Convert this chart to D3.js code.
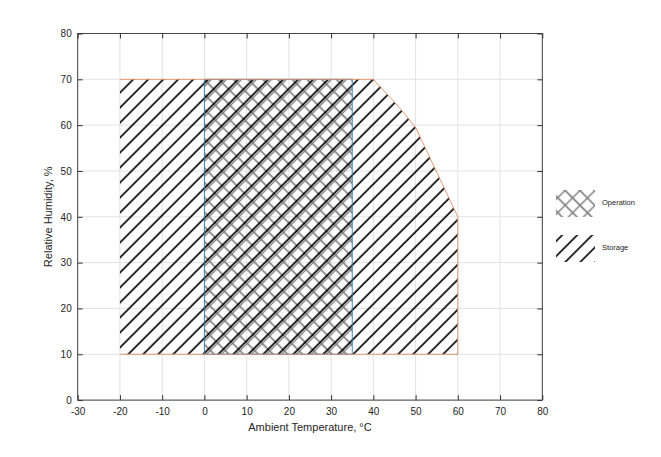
<!DOCTYPE html>
<html>
<head>
<meta charset="utf-8">
<script src="https://cdn.jsdelivr.net/npm/d3@7"></script>
<style>
  body { margin: 0; background: #fff; }
  svg text { font-family: "Liberation Sans", Arial, sans-serif; }
</style>
</head>
<body>
<svg id="chart" width="661" height="457"></svg>
<script>
// ===============================
// Data
// ===============================
const xTicks = [-30, -20, -10, 0, 10, 20, 30, 40, 50, 60, 70, 80];
const yTicks = [0, 10, 20, 30, 40, 50, 60, 70, 80];

// Storage envelope (temperature, humidity)
const storageT  = [-20, -20, 40, 46, 50, 60, 60];
const storageRH = [10, 70, 70, 64, 59.5, 40, 10];

// Operation envelope
const operationT  = [0, 0, 35, 35];
const operationRH = [10, 70, 70, 10];

const legendNames = ["Operation", "Storage"];

// ===============================
// Setup
// ===============================
const svg = d3.select("#chart"),
      width = 661,
      height = 457,
      margin = { top: 33.5, right: 118.7, bottom: 56.9, left: 77.7 };

const x = d3.scaleLinear()
    .domain([-30, 80])
    .range([margin.left, width - margin.right]);

const y = d3.scaleLinear()
    .domain([0, 80])
    .range([height - margin.bottom, margin.top]);

const axisColor = "#333";

// Hatch patterns
const defs = svg.append("defs");

const storagePat = defs.append("pattern")
    .attr("id", "hatchStorage")
    .attr("patternUnits", "userSpaceOnUse")
    .attr("width", 10.6).attr("height", 10.6)
    .attr("patternTransform", "rotate(45)");
storagePat.append("line")
    .attr("x1", 2).attr("y1", 0).attr("x2", 2).attr("y2", 10.6)
    .attr("stroke", "#000").attr("stroke-width", 1.6);

// "\" lines of the operation cross-hatch
const opPat = defs.append("pattern")
    .attr("id", "hatchOperation")
    .attr("patternUnits", "userSpaceOnUse")
    .attr("width", 10.4).attr("height", 10.4)
    .attr("patternTransform", "rotate(-45)");
opPat.append("line")
    .attr("x1", 5).attr("y1", 0).attr("x2", 5).attr("y2", 10.4)
    .attr("stroke", "#808080").attr("stroke-width", 1.7);

// "/" lines of the operation cross-hatch (close to the storage lines)
const opPat2 = defs.append("pattern")
    .attr("id", "hatchOperation2")
    .attr("patternUnits", "userSpaceOnUse")
    .attr("width", 10.6).attr("height", 10.6)
    .attr("patternTransform", "rotate(45)");
opPat2.append("line")
    .attr("x1", 4.2).attr("y1", 0).attr("x2", 4.2).attr("y2", 10.6)
    .attr("stroke", "#808080").attr("stroke-width", 1.5);

// ===============================
// Grid
// ===============================
svg.append("g")
    .selectAll("line")
    .data(xTicks)
    .enter()
    .append("line")
    .attr("x1", d => x(d)).attr("x2", d => x(d))
    .attr("y1", y(0)).attr("y2", y(80))
    .attr("stroke", "#e3e3e3").attr("stroke-width", 1);

svg.append("g")
    .selectAll("line")
    .data(yTicks)
    .enter()
    .append("line")
    .attr("x1", x(-30)).attr("x2", x(80))
    .attr("y1", d => y(d)).attr("y2", d => y(d))
    .attr("stroke", "#e3e3e3").attr("stroke-width", 1);

// ===============================
// Regions
// ===============================
const storagePts = storageT.map((t, i) => [t, storageRH[i]]);
const operationPts = operationT.map((t, i) => [t, operationRH[i]]);

const area = d3.line().x(d => x(d[0])).y(d => y(d[1]));

svg.append("path")
    .attr("d", area(operationPts) + "Z")
    .attr("fill", "url(#hatchOperation)");
svg.append("path")
    .attr("d", area(operationPts) + "Z")
    .attr("fill", "url(#hatchOperation2)");

svg.append("path")
    .attr("d", area(storagePts) + "Z")
    .attr("fill", "url(#hatchStorage)");

// Operation outline (blue sides)
svg.append("path")
    .attr("d", area(operationPts) + "Z")
    .attr("fill", "none")
    .attr("stroke", "#2a7ab0")
    .attr("stroke-width", 0.9);

// Storage outline (orange, open on left side)
svg.append("path")
    .attr("d", area(storagePts.slice(1).concat([storagePts[0]])))
    .attr("fill", "none")
    .attr("stroke", "#e0906a")
    .attr("stroke-width", 0.9);

// ===============================
// Axes
// ===============================
function styleAxis(g) {
    g.select(".domain").remove();
    g.selectAll(".tick line").attr("stroke", axisColor);
    g.selectAll(".tick text")
        .attr("fill", "#262626")
        .attr("font-size", 10)
        .attr("font-family", "Liberation Sans, Arial, sans-serif");
}

const plain = d => String(d);

svg.append("g")
    .attr("transform", `translate(0, ${y(0)})`)
    .call(d3.axisBottom(x).tickValues(xTicks).tickFormat(plain).tickSizeInner(-5).tickSizeOuter(0).tickPadding(8))
    .call(styleAxis);

svg.append("g")
    .attr("transform", `translate(0, ${y(80)})`)
    .call(d3.axisTop(x).tickValues(xTicks).tickSizeInner(-5).tickSizeOuter(0).tickFormat(""))
    .call(styleAxis);

svg.append("g")
    .attr("transform", `translate(${x(-30)}, 0)`)
    .call(d3.axisLeft(y).tickValues(yTicks).tickFormat(plain).tickSizeInner(-5).tickSizeOuter(0).tickPadding(6))
    .call(styleAxis);

svg.append("g")
    .attr("transform", `translate(${x(80)}, 0)`)
    .call(d3.axisRight(y).tickValues(yTicks).tickSizeInner(-5).tickSizeOuter(0).tickFormat(""))
    .call(styleAxis);

// Box
svg.append("rect")
    .attr("x", x(-30)).attr("y", y(80))
    .attr("width", x(80) - x(-30)).attr("height", y(0) - y(80))
    .attr("fill", "none")
    .attr("stroke", axisColor)
    .attr("stroke-width", 0.9);

// Axis labels
svg.append("text")
    .attr("x", (x(-30) + x(80)) / 2)
    .attr("y", 431)
    .attr("text-anchor", "middle")
    .attr("font-size", 11)
    .attr("fill", "#262626")
    .text("Ambient Temperature, °C");

svg.append("text")
    .attr("transform", `translate(52, ${(y(0) + y(80)) / 2}) rotate(-90)`)
    .attr("text-anchor", "middle")
    .attr("font-size", 11)
    .attr("fill", "#262626")
    .text("Relative Humidity, %");

// ===============================
// Legend
// ===============================
const legend = svg.append("g");
const swatchFills = [["url(#hatchOperation)", "url(#hatchOperation2)"], ["url(#hatchStorage)"]];
const legendY = [190, 235];

legendNames.forEach((name, i) => {
    swatchFills[i].forEach(f => {
        legend.append("rect")
            .attr("x", 556).attr("y", legendY[i])
            .attr("width", 39).attr("height", 27)
            .attr("fill", f);
    });
    legend.append("text")
        .attr("x", 602)
        .attr("y", legendY[i] + 15)
        .attr("font-size", 7.5)
        .attr("fill", "#222")
        .text(name);
});
</script>
</body>
</html>
